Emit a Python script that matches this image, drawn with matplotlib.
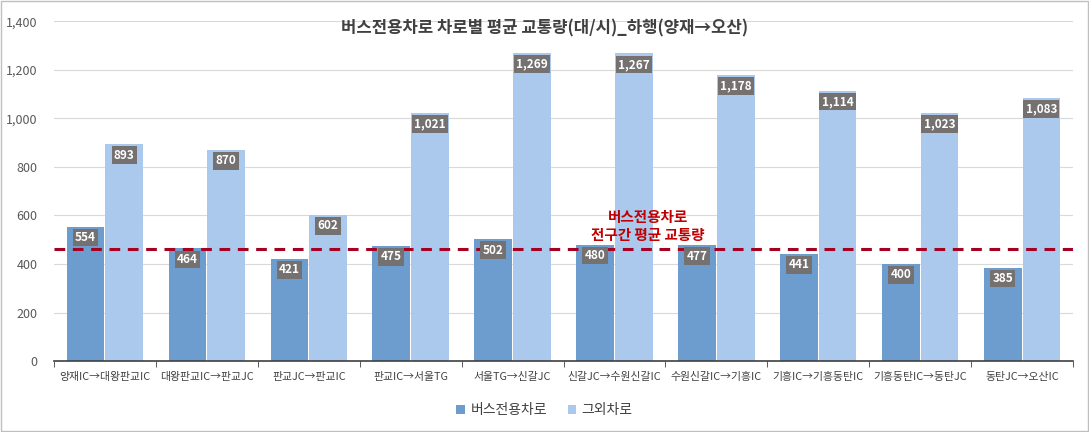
import matplotlib
matplotlib.use("Agg")
import matplotlib.pyplot as plt
import numpy as np

plt.rcParams['font.family'] = ['Noto Sans CJK KR', 'DejaVu Sans']

# --- data ------------------------------------------------------------------
categories = ['양재IC→대왕판교IC', '대왕판교IC→판교JC', '판교JC→판교IC', '판교IC→서울TG',
              '서울TG→신갈JC', '신갈JC→수원신갈IC', '수원신갈IC→기흥IC', '기흥IC→기흥동탄IC',
              '기흥동탄IC→동탄JC', '동탄JC→오산IC']
bus_lane = [554, 464, 421, 475, 502, 480, 477, 441, 400, 385]
other_lane = [893, 870, 602, 1021, 1269, 1267, 1178, 1114, 1023, 1083]
series_names = ['버스전용차로', '그외차로']
title = '버스전용차로 차로별 평균 교통량(대/시)_하행(양재→오산)'
avg_note = '버스전용차로\n전구간 평균 교통량'
avg_bus = np.mean(bus_lane)

dark = '#6d9dcf'
light = '#abc9ec'
box = '#757171'

fig = plt.figure(figsize=(10.89, 4.32), dpi=100)
ax = fig.add_axes([0.0496, 0.164, 0.9357, 0.787])

x = np.arange(len(categories))
w = 0.37
b1 = ax.bar(x - 0.19, bus_lane, w, color=dark, label=series_names[0], zorder=2)
b2 = ax.bar(x + 0.19, other_lane, w, color=light, label=series_names[1], zorder=2)

for bars in (b1, b2):
    for r in bars:
        v = r.get_height()
        ax.text(r.get_x() + r.get_width() / 2, v - 45, f'{v:,.0f}', ha='center', va='center',
                color='white', fontsize=8.5, fontweight='bold', zorder=4,
                bbox=dict(boxstyle='square,pad=0.2', fc=box, ec='none'))

ax.axhline(avg_bus, color='#a50021', ls=(0, (3.5, 2.5)), lw=2.2, zorder=3)
ax.text(5.33, 488, avg_note, ha='center', va='bottom', color='#c00000', fontsize=10.5,
        fontweight='bold', linespacing=1.15, zorder=5)

ax.set_ylim(0, 1400)
ax.set_xlim(-0.5, len(categories) - 0.5)
ax.set_yticks(np.arange(0, 1401, 200))
ax.set_yticklabels([f'{v:,}' for v in range(0, 1401, 200)])
ax.yaxis.grid(True, color='#d9d9d9', lw=0.8, zorder=0)
ax.set_axisbelow(True)
ax.tick_params(axis='y', length=0, labelsize=9, colors='#595959', pad=12)
ax.set_xticks(x)
ax.set_xticklabels(categories, fontsize=7.8, color='#404040')
ax.set_xticks(np.arange(-0.5, len(categories), 1), minor=True)
ax.tick_params(axis='x', which='major', length=0, pad=8)
ax.tick_params(axis='x', which='minor', length=4, color='#404040')
for s in ('top', 'right', 'left'):
    ax.spines[s].set_visible(False)
ax.spines['bottom'].set_color('#404040')
ax.spines['bottom'].set_linewidth(1.2)

fig.text(0.5, 1 - 28 / 432, title, ha='center', va='center', fontsize=12,
         fontweight='bold', color='#404040')

fig.legend(loc='center', ncol=2, frameon=False, fontsize=10, bbox_to_anchor=(0.5, 1 - 410 / 432),
           handlelength=0.6, handleheight=0.6, handletextpad=0.4, columnspacing=1.5,
           labelcolor='#404040')

fig.patches.append(plt.Rectangle((0.001, 0.002), 0.998, 0.996, transform=fig.transFigure,
                                 fill=False, ec='#bfbfbf', lw=1))

fig.savefig('out.png', dpi=100)
